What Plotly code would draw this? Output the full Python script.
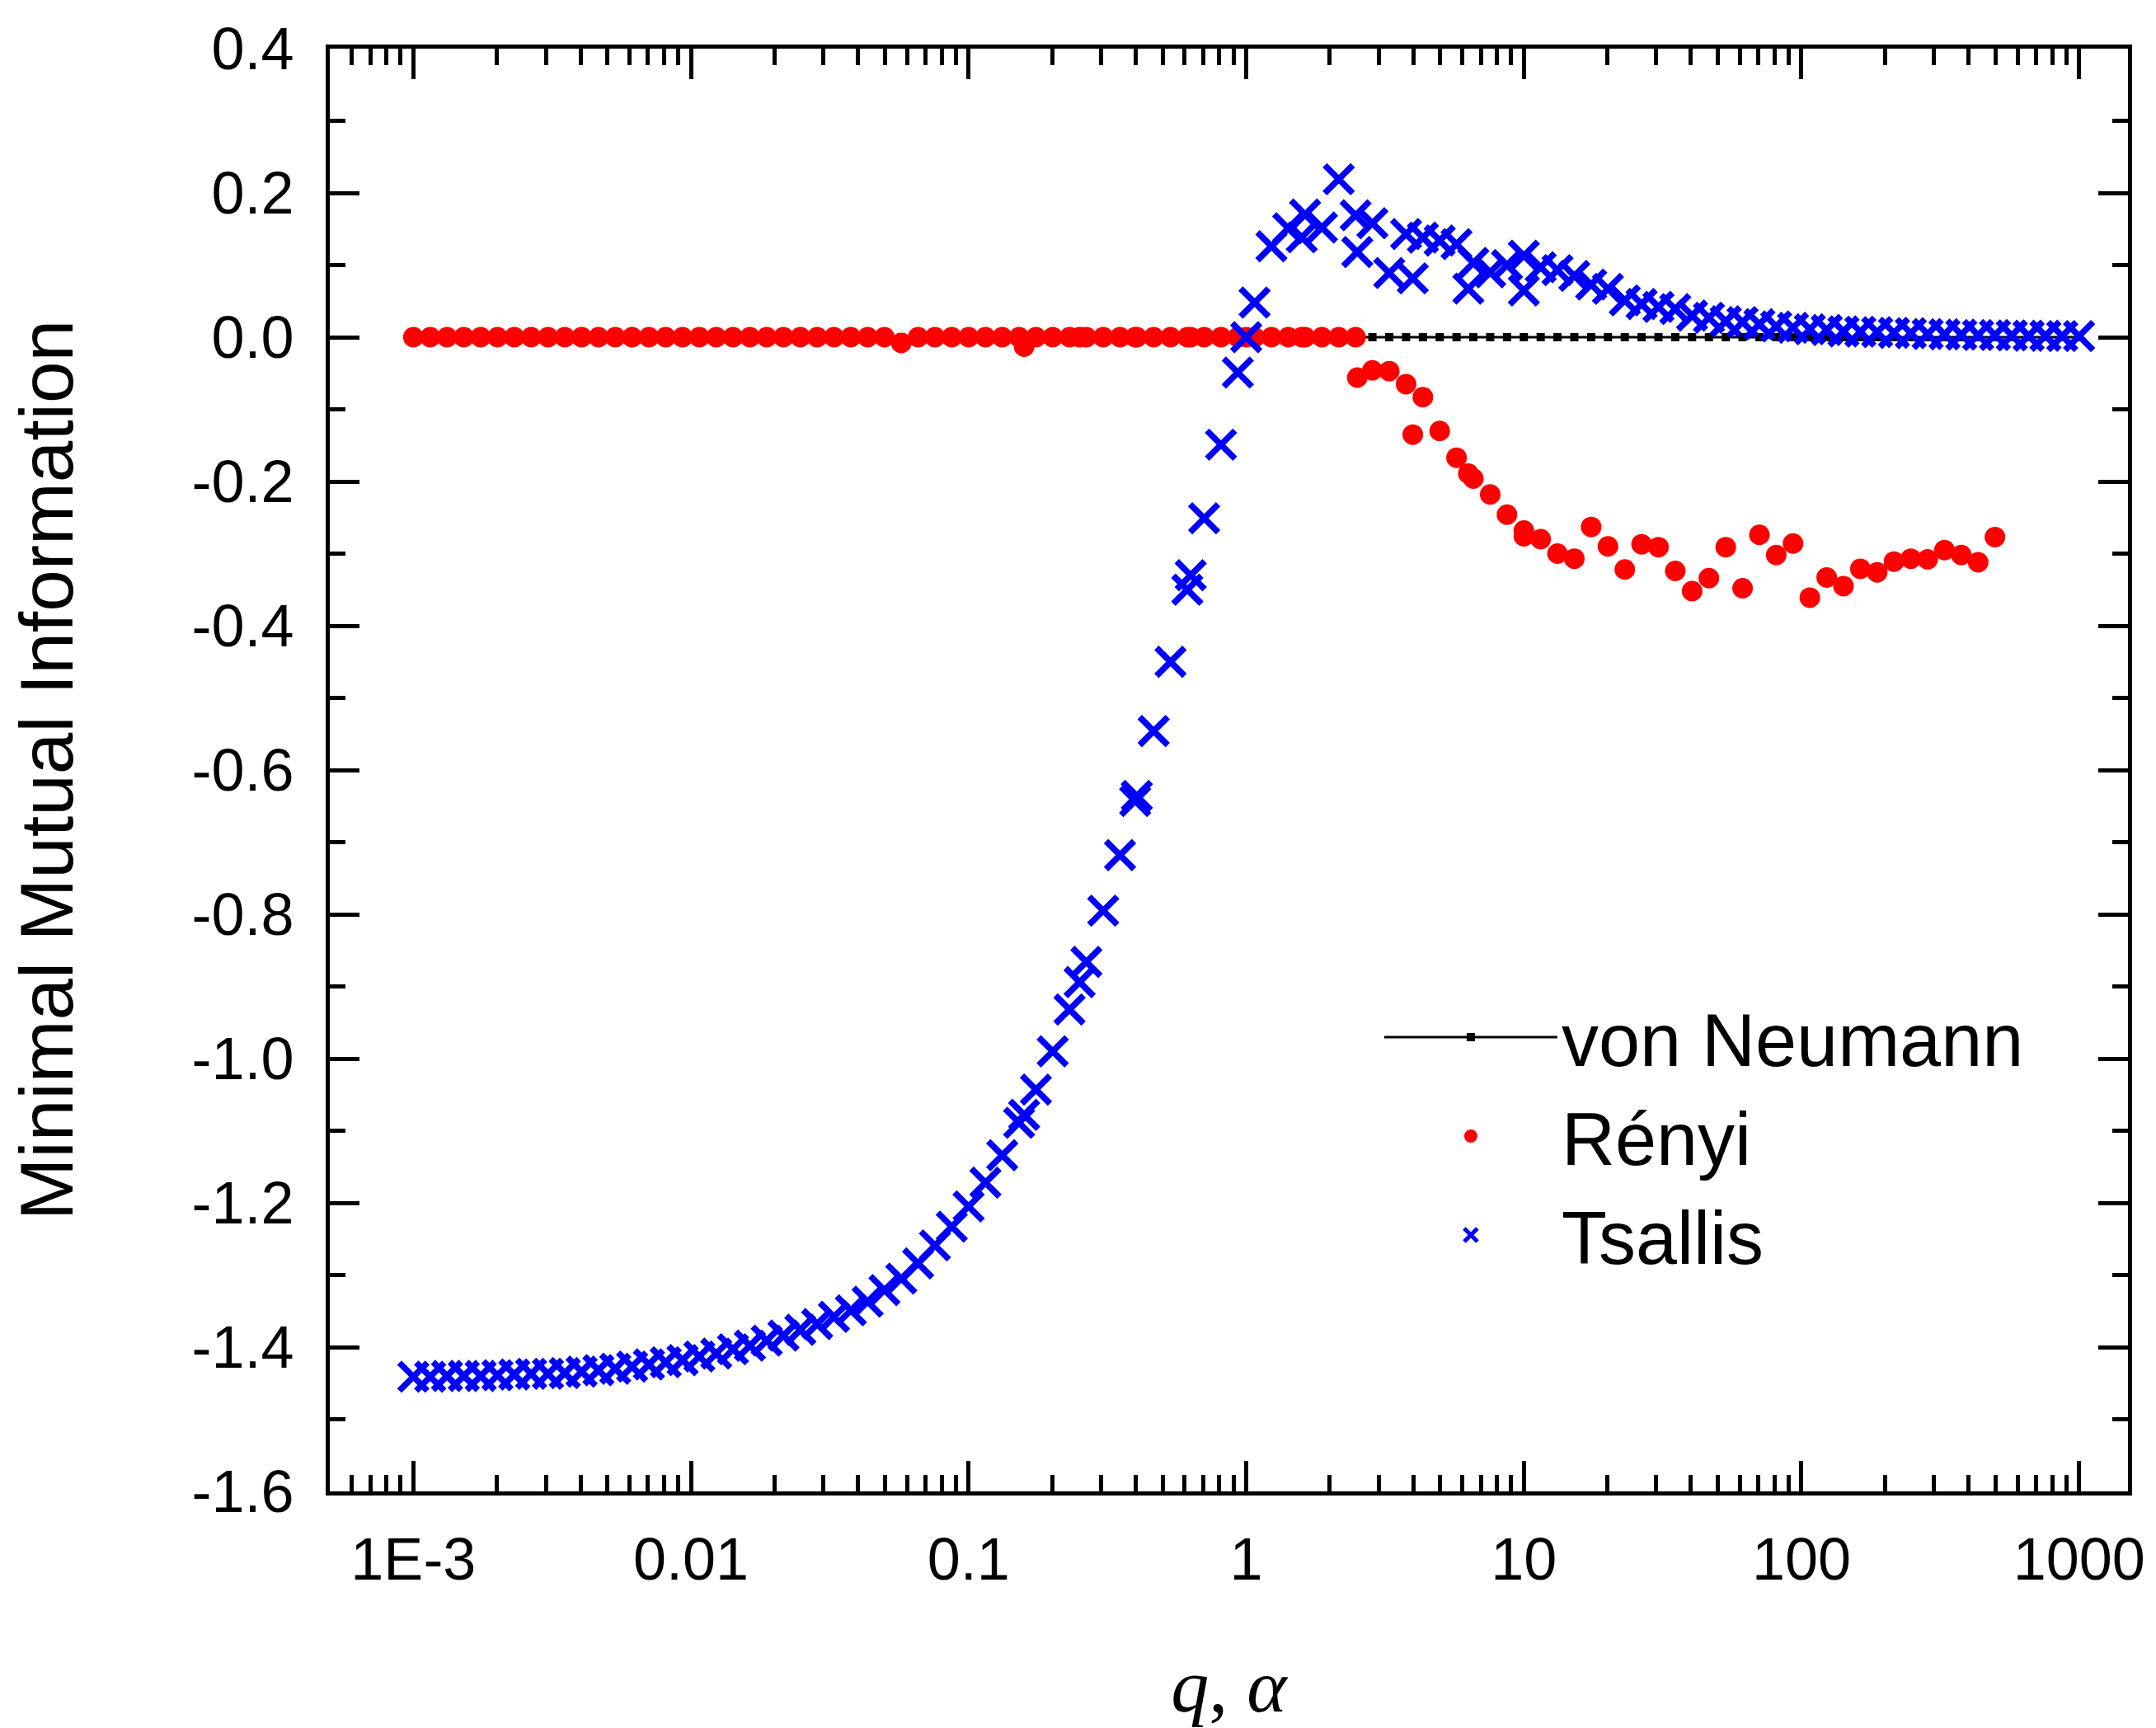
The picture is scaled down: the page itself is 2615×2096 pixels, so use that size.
import plotly.graph_objects as go

# q / alpha grid (log-spaced)
q_grid = [
    0.001, 0.00115, 0.001322, 0.00152, 0.001748, 0.002009, 0.00231, 0.002656, 0.003054, 0.003511,
    0.004037, 0.004642, 0.005337, 0.006136, 0.007055, 0.008111, 0.009326, 0.01072, 0.01233, 0.01417,
    0.0163, 0.01874, 0.02154, 0.02477, 0.02848, 0.03275, 0.03765, 0.04329, 0.04977, 0.05722,
    0.06579, 0.07565, 0.08697, 0.1, 0.115, 0.1322, 0.152, 0.1748, 0.2009, 0.231,
    0.2656, 0.3054, 0.3511, 0.4037, 0.4642, 0.5337, 0.6136, 0.7055, 0.8111, 0.9326,
    1.072, 1.233, 1.417, 1.63, 1.874, 2.154, 2.477, 2.848, 3.275, 3.765,
    4.329, 4.977, 5.722, 6.579, 7.565, 8.697, 10.0, 11.5, 13.22, 15.2,
    17.48, 20.09, 23.1, 26.56, 30.54, 35.11, 40.37, 46.42, 53.37, 61.36,
    70.55, 81.11, 93.26, 107.2, 123.3, 141.7, 163.0, 187.4, 215.4, 247.7,
    284.8, 327.5, 376.5, 432.9, 497.7, 572.2, 657.9, 756.5, 869.7, 1000.0,
]
# additional sample points
q_extra = [0.1585, 0.2512, 0.3981, 0.631, 1.0, 1.585, 2.512, 3.981, 6.31, 10.0]

von_neumann = [0.0] * len(q_grid)

renyi_grid = [
    0, 0, 0, 0, 0, 0, 0, 0, 0, 0,
    0, 0, 0, 0, 0, 0, 0, 0, 0, 0,
    0, 0, 0, 0, 0, 0, 0, 0, 0, -0.008,
    0, 0, 0, 0, 0, 0, 0, 0, 0, 0,
    0, 0, 0, 0, 0, 0, 0, 0, 0, 0,
    0, 0, 0, 0, 0, 0, 0, -0.046, -0.047, -0.065,
    -0.083, -0.130, -0.167, -0.196, -0.218, -0.246, -0.268, -0.280, -0.300, -0.307,
    -0.263, -0.290, -0.322, -0.287, -0.291, -0.324, -0.352, -0.334, -0.291, -0.348,
    -0.274, -0.302, -0.286, -0.361, -0.333, -0.345, -0.321, -0.326, -0.311, -0.307,
    -0.308, -0.295, -0.302, -0.312, -0.277,
]
renyi_extra = [-0.013, 0, 0, 0, 0, 0, -0.056, -0.135, -0.189, -0.276]

tsallis_grid = [
    -1.441, -1.441, -1.440, -1.440, -1.440, -1.439, -1.438, -1.437, -1.437, -1.436,
    -1.434, -1.432, -1.430, -1.427, -1.424, -1.421, -1.418, -1.413, -1.409, -1.403,
    -1.398, -1.391, -1.384, -1.376, -1.368, -1.358, -1.349, -1.337, -1.321, -1.305,
    -1.284, -1.259, -1.233, -1.205, -1.172, -1.134, -1.089, -1.043, -0.990, -0.932,
    -0.866, -0.795, -0.718, -0.636, -0.546, -0.450, -0.350, -0.251, -0.149, -0.049,
    0.048, 0.126, 0.151, 0.170, 0.152, 0.219, 0.169, 0.158, 0.089, 0.143,
    0.138, 0.134, 0.129, 0.103, 0.090, 0.100, 0.113, 0.097, 0.093, 0.085,
    0.073, 0.067, 0.051, 0.046, 0.042, 0.039, 0.030, 0.027, 0.022, 0.021,
    0.018, 0.015, 0.013, 0.011, 0.010, 0.008, 0.0075, 0.007, 0.006, 0.0055,
    0.0045, 0.004, 0.0035, 0.003, 0.003, 0.0025, 0.002, 0.002, 0.0015, 0.0015,
]
tsallis_extra = [-1.078, -0.894, -0.643, -0.330, 0.000, 0.1385, 0.118, 0.0816, 0.0673, 0.0648]

x_tickvals = [0.001, 0.01, 0.1, 1, 10, 100, 1000]
x_ticktext = ["1E-3", "0.01", "0.1", "1", "10", "100", "1000"]
y_tickvals = [0.4, 0.2, 0.0, -0.2, -0.4, -0.6, -0.8, -1.0, -1.2, -1.4, -1.6]
y_ticktext = ["0.4", "0.2", "0.0", "-0.2", "-0.4", "-0.6", "-0.8", "-1.0", "-1.2", "-1.4", "-1.6"]

FONT = "Liberation Sans, Arial, sans-serif"

fig = go.Figure()
fig.add_trace(go.Scatter(
    x=q_grid, y=von_neumann, mode="lines+markers", name="von Neumann",
    line=dict(color="black", width=3),
    marker=dict(symbol="square", size=10, color="black"),
))
fig.add_trace(go.Scatter(
    x=q_grid[:len(renyi_grid)] + q_extra, y=renyi_grid + renyi_extra,
    mode="markers", name="Rényi",
    marker=dict(symbol="circle", size=25, color="#ff0000"),
))
fig.add_trace(go.Scatter(
    x=q_grid + q_extra, y=tsallis_grid + tsallis_extra,
    mode="markers", name="Tsallis",
    marker=dict(symbol="x-thin", size=34, color="#0000ff",
                line=dict(color="#0000ff", width=7.5)),
))

fig.update_layout(
    width=2615, height=2096,
    margin=dict(l=400, r=34, t=59, b=279),
    paper_bgcolor="white", plot_bgcolor="white",
    font=dict(family=FONT, color="black", size=72),
    showlegend=True,
    legend=dict(
        x=0.5841, y=0.352, xanchor="left", yanchor="top",
        bgcolor="rgba(0,0,0,0)", borderwidth=0,
        font=dict(family=FONT, size=90, color="black"),
        itemwidth=210, tracegroupgap=0,
    ),
)

fig.update_xaxes(
    type="log", range=[-3.30103, 3.17609],
    tickmode="array", tickvals=x_tickvals, ticktext=x_ticktext,
    ticks="inside", ticklen=37, tickwidth=5, tickcolor="black",
    showline=True, linewidth=5, linecolor="black", mirror="ticks",
    showgrid=False, zeroline=False,
    tickfont=dict(family=FONT, size=72, color="black"),
    ticklabelstandoff=16,
    minor=dict(ticks="inside", ticklen=20, tickwidth=5, tickcolor="black",
               dtick="D1", showgrid=False),
    title=dict(text="<i>q</i>, <i>α</i>", standoff=88,
               font=dict(family="Liberation Serif, Times New Roman, serif", size=92, color="black")),
)
fig.update_yaxes(
    range=[-1.6, 0.4],
    tickmode="array", tickvals=y_tickvals, ticktext=y_ticktext,
    ticks="inside", ticklen=36, tickwidth=5, tickcolor="black",
    showline=True, linewidth=5, linecolor="black", mirror="ticks",
    showgrid=False, zeroline=False,
    tickfont=dict(family=FONT, size=72, color="black"),
    ticklabelstandoff=24,
    minor=dict(ticks="inside", ticklen=19, tickwidth=5, tickcolor="black",
               dtick=0.1, showgrid=False),
    title=dict(text="Minimal Mutual Information", standoff=115,
               font=dict(family=FONT, size=91, color="black")),
)

fig.write_html("out.html", config={"displayModeBar": False},
               post_script="document.body.style.margin='0';")
